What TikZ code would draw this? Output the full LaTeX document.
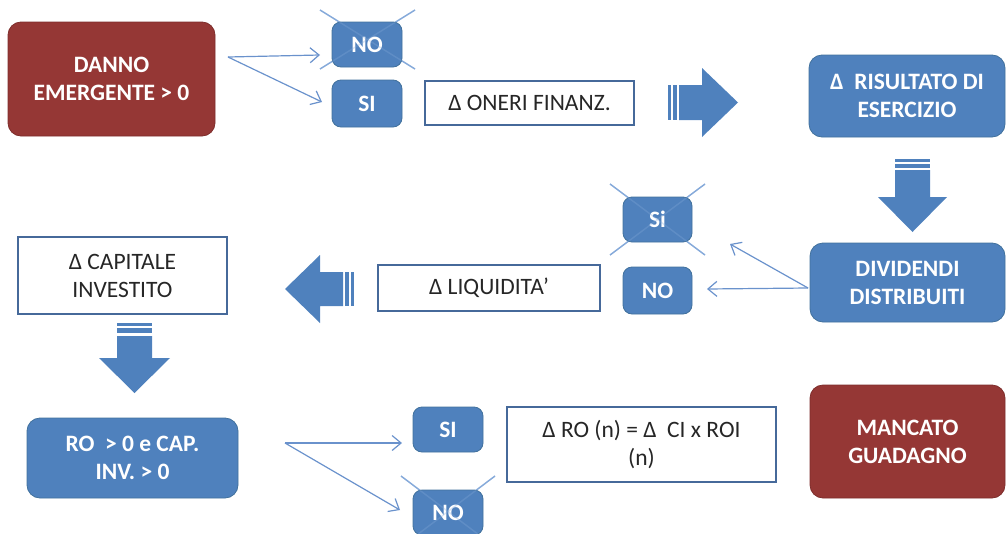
\documentclass[tikz,border=0pt]{standalone}
\usepackage{fontspec}
\setmainfont{Carlito}
\usetikzlibrary{arrows.meta}
\definecolor{bl}{HTML}{4F81BD}
\definecolor{blb}{HTML}{41719C}
\definecolor{dr}{HTML}{953735}
\definecolor{drb}{HTML}{7E2E2C}
\definecolor{wb}{HTML}{46699A}
\definecolor{ln}{HTML}{6A92CC}
\definecolor{xl}{HTML}{86AADA}
\begin{document}
\begin{tikzpicture}[x=1pt,y=-1pt,
  txt/.style={font=\fontsize{23.5}{28}\selectfont, align=center, inner sep=0pt},
  bluebox/.style={txt, rounded corners=9pt, draw=blb, line width=0.8pt, fill=bl, text=white, font=\fontsize{23.5}{28}\selectfont\bfseries},
  redbox/.style={bluebox, rounded corners=13pt, draw=drb, fill=dr},
  bigblue/.style={bluebox, rounded corners=13pt},
  whitebox/.style={txt, draw=wb, line width=1.2pt, fill=white, text=black!85},
  conn/.style={draw=ln, line width=1.2pt, -{Straight Barb[length=9pt,width=15pt,line width=1.2pt]}},
  xline/.style={draw=xl, line width=1.4pt},
  block/.style={fill=bl, draw=none}]
\useasboundingbox (0,0) rectangle (1007,533);

% crossing lines (behind boxes)
\coordinate (x1a) at (320,10); \coordinate (x1b) at (415,69);
\coordinate (x1c) at (415,10); \coordinate (x1d) at (320,69);
\coordinate (x2a) at (610,184); \coordinate (x2b) at (705,255);
\coordinate (x2c) at (705,184); \coordinate (x2d) at (610,255);
\coordinate (x3a) at (401,476); \coordinate (x3b) at (495,547);
\coordinate (x3c) at (495,476); \coordinate (x3d) at (401,547);
\draw[xline] (x1a) -- (x1b); \draw[xline] (x1c) -- (x1d);
\draw[xline] (x2a) -- (x2b); \draw[xline] (x2c) -- (x2d);
\draw[xline] (x3a) -- (x3b); \draw[xline] (x3c) -- (x3d);

% boxes
\node[redbox, minimum width=207, minimum height=114] (danno) at (111.5,79) {DANNO\\EMERGENTE > 0};
\node[bluebox, minimum width=70, minimum height=45] (no1) at (367,44.5) {NO};
\node[bluebox, minimum width=70, minimum height=47] (si1) at (367,103.5) {SI};
\node[whitebox, minimum width=209, minimum height=44] (oneri) at (529.5,103) {Δ ONERI FINANZ.};
\node[bigblue, minimum width=196, minimum height=82] (risultato) at (907,96) {Δ\ \ RISULTATO DI\\ESERCIZIO};
\node[bigblue, minimum width=195, minimum height=79] (dividendi) at (907.5,282.5) {DIVIDENDI\\DISTRIBUITI};
\node[bluebox, minimum width=69, minimum height=45] (si2) at (657.5,219.5) {Si};
\node[bluebox, minimum width=69, minimum height=47] (no2) at (657.5,290.5) {NO};
\node[whitebox, minimum width=222, minimum height=46] (liquidita) at (489,288) {Δ LIQUIDITA’};
\node[whitebox, minimum width=209, minimum height=77] (capitale) at (122.5,275.5) {Δ CAPITALE\\INVESTITO};
\node[bigblue, minimum width=211, minimum height=80] (ro) at (132.5,458) {RO\ \ > 0 e CAP.\\INV. > 0};
\node[bluebox, minimum width=70, minimum height=45] (si3) at (448,429.5) {SI};
\node[bluebox, minimum width=70, minimum height=45] (no3) at (448,512.5) {NO};
\node[whitebox, minimum width=269, minimum height=75] (roi) at (641.5,444.5) {Δ RO (n) = Δ\ \ CI x ROI\\(n)};
\node[redbox, minimum width=195, minimum height=113] (mancato) at (907.5,441.5) {MANCATO\\GUADAGNO};

% faint crossing lines over boxes
\draw[xline, opacity=0.3] (x1a) -- (x1b); \draw[xline, opacity=0.3] (x1c) -- (x1d);
\draw[xline, opacity=0.3] (x2a) -- (x2b); \draw[xline, opacity=0.3] (x2c) -- (x2d);
\draw[xline, opacity=0.3] (x3a) -- (x3b); \draw[xline, opacity=0.3] (x3c) -- (x3d);

% connectors
\coordinate (s1) at (228,57);
\coordinate (e1a) at (320,55);
\coordinate (e1b) at (322,102);
\draw[conn] (s1) -- (e1a);
\draw[conn] (s1) -- (e1b);
\coordinate (s2) at (808,288);
\coordinate (e2a) at (730,244);
\coordinate (e2b) at (707,289);
\draw[conn] (s2) -- (e2a);
\draw[conn] (s2) -- (e2b);
\coordinate (s3) at (285,443);
\coordinate (e3a) at (402,443);
\coordinate (e3b) at (400,510);
\draw[conn] (s3) -- (e3a);
\draw[conn] (s3) -- (e3b);

% block arrows
% right (top)
\fill[block] (668,85) rectangle (671,120);
\fill[block] (673,85) rectangle (677,120);
\fill[block] (679,85) -- (702,85) -- (702,68) -- (738,102.5) -- (702,137) -- (702,120) -- (679,120) -- cycle;
% down (right)
\fill[block] (895,159) rectangle (930,162);
\fill[block] (895,164) rectangle (930,168);
\fill[block] (895,170) -- (895,197) -- (878,197) -- (912.5,232) -- (947,197) -- (930,197) -- (930,170) -- cycle;
% left
\fill[block] (351,272) rectangle (354,306);
\fill[block] (345,272) rectangle (349,306);
\fill[block] (343,272) -- (320,272) -- (320,255) -- (285,289) -- (320,323) -- (320,306) -- (343,306) -- cycle;
% down (left)
\fill[block] (117,323) rectangle (152,326);
\fill[block] (117,328) rectangle (152,333);
\fill[block] (117,336) -- (117,358) -- (99,358) -- (134.5,393) -- (170,358) -- (152,358) -- (152,336) -- cycle;
\end{tikzpicture}
\end{document}
